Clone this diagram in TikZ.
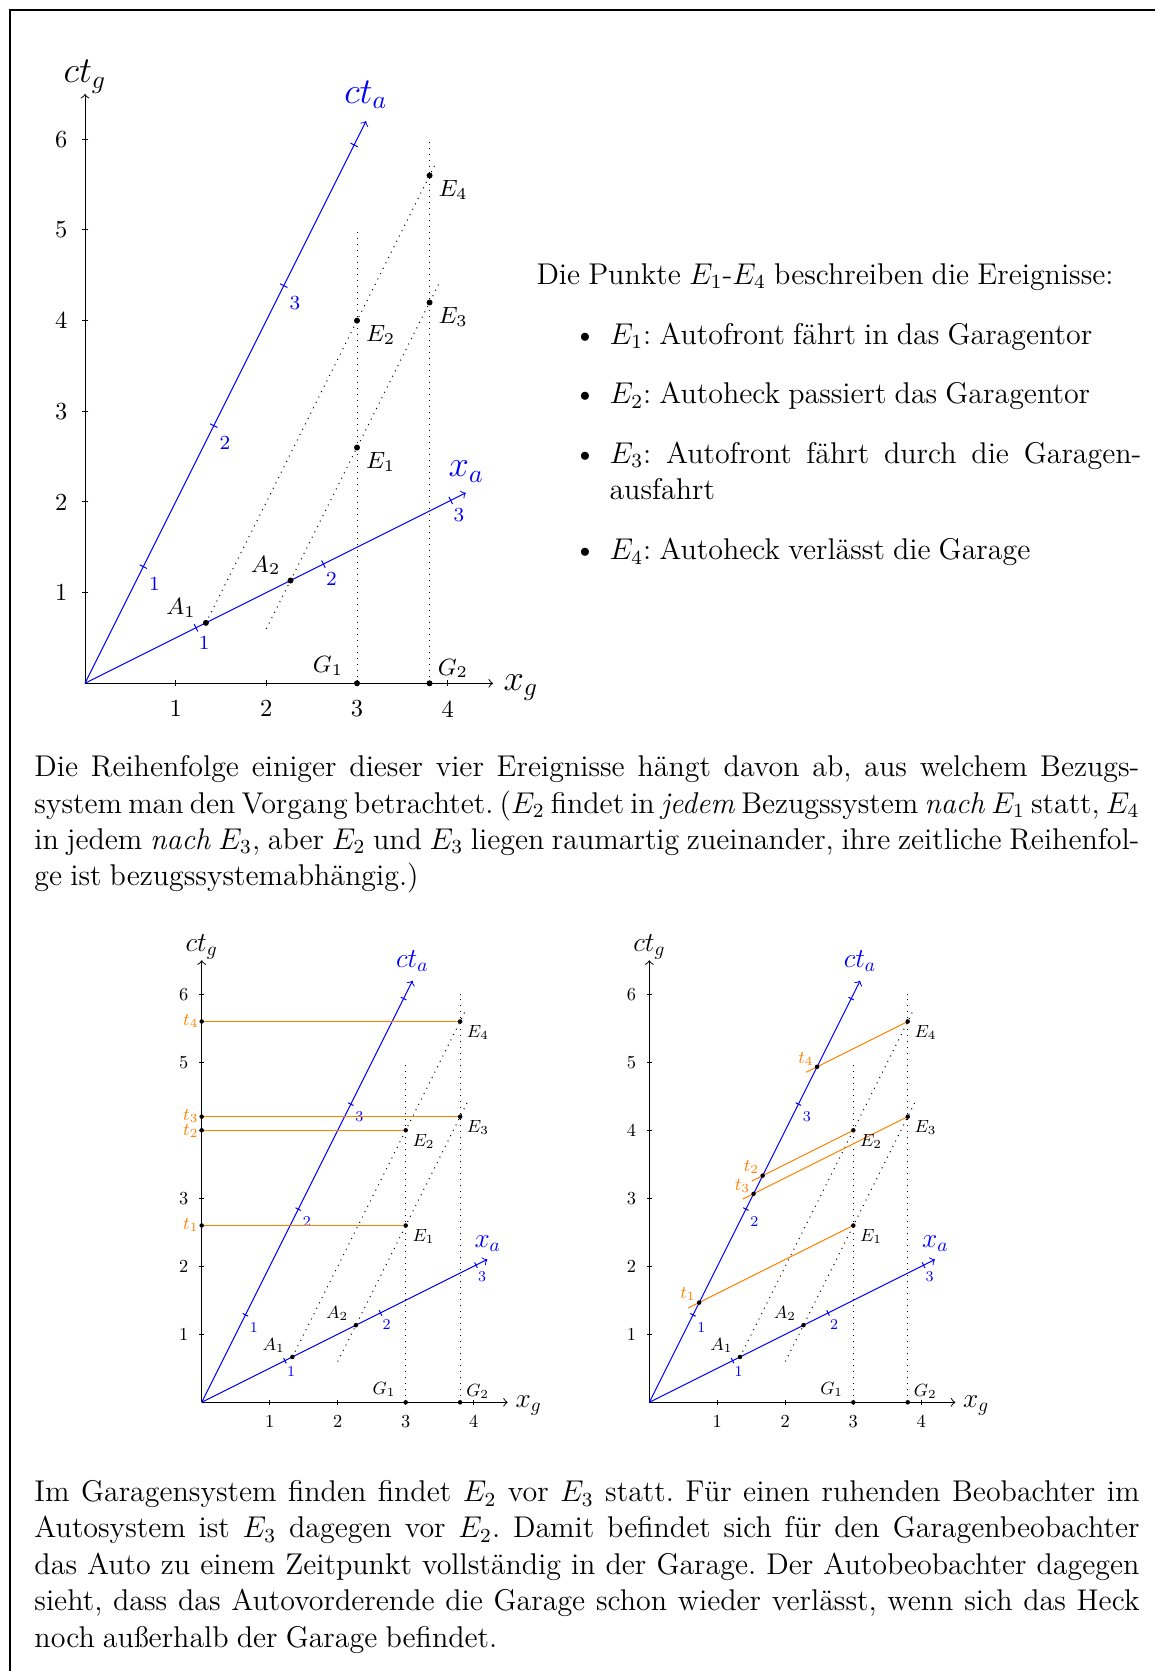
\RequirePackage{fix-cm}
\documentclass[tikz,border=0pt]{standalone}
\usepackage{fontspec}
\newlength\tw \setlength\tw{442pt}
\newlength\bw \setlength\bw{212.8pt}
\newcommand\jl[1]{\makebox[\tw][s]{#1}}
\newcommand\jb[1]{\makebox[\bw][s]{#1}}
\newcommand\txtfont{\fontsize{12}{14.5}\selectfont\frenchspacing\spaceskip=3.25pt plus 3pt minus 1pt\relax}
\tikzset{
  gaxis/.style={->, black},
  bax/.style={->, blue},
  wl/.style={dotted, black},
  dot/.style={circle, fill=black, inner sep=0pt, minimum size=2.4pt},
  axnum/.style={font=\fontsize{9.8}{11}\selectfont, inner sep=0pt},
  evlab/.style={font=\fontsize{9.4}{11}\selectfont, inner sep=0pt},
  tlab/.style={blue, font=\fontsize{8}{9}\selectfont, inner sep=0pt},
  axname/.style={font=\fontsize{14.6}{17}\selectfont, inner sep=0pt},
  baxname/.style={axname, blue},
  oline/.style={orange},
  olab/.style={orange, font=\fontsize{9.5}{11}\selectfont, inner sep=0pt},
  txt/.style={font=\txtfont, inner sep=0pt, anchor=base west},
  bul/.style={font=\txtfont, inner sep=0pt, anchor=base},
  frameline/.style={black, line width=0.5pt},
}
% #1 prefix, #2 y labels, #3 extra lines drawn before the dots
\newcommand\stbase[3]{%
  \coordinate (#1O) at (0,0);
  \coordinate (#1pA1) at (4/3,2/3);
  \coordinate (#1pA2) at (2.2667,1.1333);
  \coordinate (#1pE1) at (3,2.6);
  \coordinate (#1pE2) at (3,4);
  \coordinate (#1pE3) at (3.8,4.2);
  \coordinate (#1pE4) at (3.8,5.6);
  \coordinate (#1pG1) at (3,0);
  \coordinate (#1pG2) at (3.8,0);
  \coordinate (#1Xg) at (4.5,0);
  \coordinate (#1Tg) at (0,6.5);
  \coordinate (#1Xa) at (4.2,2.1);
  \coordinate (#1Ta) at (3.1,6.2);
  \coordinate (#1rearend) at (3.875,5.75);
  \coordinate (#1frontstart) at (2,0.6);
  \coordinate (#1frontend) at (3.9,4.4);
  \coordinate (#1gtopa) at (3,5);
  \coordinate (#1gtopb) at (3.8,6);
  \draw[wl] (#1pA1) -- (#1rearend);
  \draw[wl] (#1frontstart) -- (#1frontend);
  \draw[wl] (#1pG1) -- (#1gtopa);
  \draw[wl] (#1pG2) -- (#1gtopb);
  \draw[gaxis] (#1O) -- (#1Xg);
  \draw[gaxis] (#1O) -- (#1Tg);
  \node[axname, anchor=base west] (#1xglab) at (4.61,-0.074) {$x_g$};
  \node[axname, anchor=base] (#1tglab) at (0,6.624) {$ct_g$};
  \foreach \i in {1,...,4} {
    \draw (\i,0.035) -- (\i,-0.035);
    \node[axnum, anchor=north] (#1xn\i) at (\i,-0.184) {\i};
  }
  \foreach \i in {1,...,6} {
    \draw (0.037,\i) -- (-0.037,\i);
  }
  \foreach \i in {#2} {
    \node[axnum, anchor=east] (#1yn\i) at (-0.19,\i) {\i};
  }
  \draw[bax] (#1O) -- (#1Ta);
  \draw[bax] (#1O) -- (#1Xa);
  \node[baxname, anchor=base] (#1talab) at (3.097,6.397) {$ct_a$};
  \node[baxname, anchor=base] (#1xalab) at (4.205,2.279) {$x_a$};
  \foreach \tv/\l in {1.286/1,2.841/2,4.385/3} {
    \draw[blue] (\tv/2+0.04,\tv-0.02) -- (\tv/2-0.04,\tv+0.02);
    \node[tlab] (#1tal\l) at (\tv/2+0.124,\tv-0.188) {\l};
  }
  \draw[blue] (5.937/2+0.04,5.937-0.02) -- (5.937/2-0.04,5.937+0.02);
  \foreach \xv/\l in {1.224/1,2.629/2,4.033/3} {
    \draw[blue] (\xv-0.02,\xv/2+0.04) -- (\xv+0.02,\xv/2-0.04);
    \node[tlab] (#1xal\l) at (\xv+0.09,\xv/2-0.166) {\l};
  }
  #3
  \foreach \n in {A1,A2,E1,E2,E3,E4,G1,G2} {
    \node[dot] (#1\n) at (#1p\n) {};
  }
  \foreach \n/\s in {E1/1,E2/2,E3/3,E4/4} {
    \node[evlab, anchor=base west] (#1\n lab) at ([shift={(0.095,-0.235)}]#1p\n) {$E_\s$};
  }
  \foreach \n/\s in {A1/1,A2/2} {
    \node[evlab, anchor=base east] (#1\n lab) at ([shift={(-0.107,0.092)}]#1p\n) {$A_\s$};
  }
  \node[evlab, anchor=base east] (#1G1lab) at ([shift={(-0.147,0.12)}]#1pG1) {$G_1$};
  \node[evlab, anchor=base west] (#1G2lab) at ([shift={(0.085,0.09)}]#1pG2) {$G_2$};
}
\begin{document}
\begin{tikzpicture}[x=0.4pt,y=0.4pt]
\useasboundingbox (0,0) rectangle (1155,-1671);
\draw[frameline] (10,-1671) -- (10,-10) -- (1155,-10);

% top diagram
\begin{scope}[shift={(85,-683.3)}, x=36.268pt, y=36.268pt]
  \stbase{T}{1,...,6}{}
\end{scope}

% bottom left diagram
\begin{scope}[shift={(201.7,-1402.3)}, scale=0.75, transform shape, x=36.268pt, y=36.268pt]
  \stbase{L}{1,2,3,5,6}{%
    \foreach \k/\tv in {1/2.6,2/4,3/4.2,4/5.6} {
      \coordinate (LpT\k) at (0,\tv);
      \draw[oline] (LpT\k) -- (LpE\k);
    }
  }
  \foreach \k/\tv/\dy in {1/2.6/0,2/4/-0.015,3/4.2/0.015,4/5.6/0} {
    \node[dot] (LT\k) at (LpT\k) {};
    \node[olab] (LTlab\k) at (-0.16,\tv+\dy) {$t_\k$};
  }
\end{scope}

% bottom right diagram
\begin{scope}[shift={(649.3,-1402.3)}, scale=0.75, transform shape, x=36.268pt, y=36.268pt]
  \stbase{R}{1,...,6}{%
    \foreach \k/\ix/\iy in {1/0.7333/1.4667,2/1.6667/3.3333,3/1.5333/3.0667,4/2.4667/4.9333} {
      \coordinate (RpT\k) at (\ix,\iy);
      \coordinate (RsT\k) at (\ix-0.16,\iy-0.08);
      \draw[oline] (RsT\k) -- (RpE\k);
    }
  }
  \foreach \k/\ix/\iy in {1/0.7333/1.4667,2/1.6667/3.3333,3/1.5333/3.0667,4/2.4667/4.9333} {
    \node[dot] (RT\k) at (RpT\k) {};
    \node[olab] (RTlab\k) at (\ix-0.165,\iy+0.12) {$t_\k$};
  }
\end{scope}

% top right text
\node[txt] (intro) at (536,-284.3) {Die Punkte $E_1$-$E_4$ beschreiben die Ereignisse:};
\node[bul] (b1) at (585,-344.3) {\textbullet};
\node[txt] (i1) at (609,-344.3) {$E_1$: Autofront fährt in das Garagentor};
\node[bul] (b2) at (585,-403.9) {\textbullet};
\node[txt] (i2) at (609,-403.9) {$E_2$: Autoheck passiert das Garagentor};
\node[bul] (b3) at (585,-463.3) {\textbullet};
\node[txt] (i3a) at (609,-463.3) {\jb{$E_3$: Autofront fährt durch die Garagen-}};
\node[txt] (i3b) at (609,-499.8) {ausfahrt};
\node[bul] (b4) at (585,-559.5) {\textbullet};
\node[txt] (i4) at (609,-559.5) {$E_4$: Autoheck verlässt die Garage};

% paragraph 1
\node[txt] (pa1) at (34,-776.7) {\jl{Die Reihenfolge einiger dieser vier Ereignisse hängt davon ab, aus welchem Bezugs-}};
\node[txt] (pa2) at (34,-813) {\jl{system man den Vorgang betrachtet. ($E_2$ findet in \emph{jedem} Bezugssystem \emph{nach} $E_1$ statt, $E_4$}};
\node[txt] (pa3) at (34,-849.2) {\jl{in jedem \emph{nach} $E_3$, aber $E_2$ und $E_3$ liegen raumartig zueinander, ihre zeitliche Reihenfol-}};
\node[txt] (pa4) at (34,-885.4) {ge ist bezugssystemabhängig.)};

% paragraph 2
\node[txt] (pb1) at (34,-1501.5) {\jl{Im Garagensystem finden findet $E_2$ vor $E_3$ statt. Für einen ruhenden Beobachter im}};
\node[txt] (pb2) at (34,-1537.8) {\jl{Autosystem ist $E_3$ dagegen vor $E_2$. Damit befindet sich für den Garagenbeobachter}};
\node[txt] (pb3) at (34,-1574) {\jl{das Auto zu einem Zeitpunkt vollständig in der Garage. Der Autobeobachter dagegen}};
\node[txt] (pb4) at (34,-1610.2) {\jl{sieht, dass das Autovorderende die Garage schon wieder verlässt, wenn sich das Heck}};
\node[txt] (pb5) at (34,-1647) {noch außerhalb der Garage befindet.};
\end{tikzpicture}
\end{document}
